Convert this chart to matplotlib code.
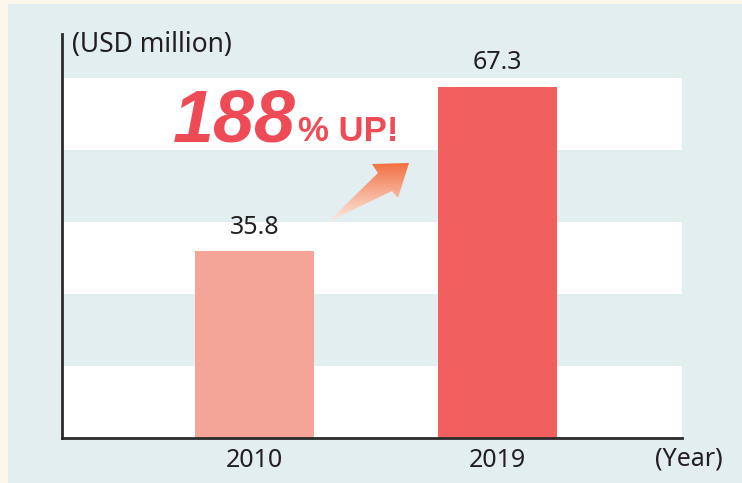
import numpy as np
import matplotlib
matplotlib.use('Agg')
from matplotlib import pyplot as plt
from matplotlib.patches import Rectangle, Polygon

years = ['2010', '2019']
values = [35.8, 67.3]
bar_colors = ['#f4a597', '#f15f5f']
growth_label = '188'

W, H = 742, 483
cream = '#fdf6ea'
panel = '#e3eef0'
dark = '#231f20'
red = '#ee4b57'

fig = plt.figure(figsize=(W / 100, H / 100), dpi=100)
fig.patch.set_facecolor(cream)
fig.patches.append(Rectangle((8 / W, 0), 1, 1 - 4 / H, transform=fig.transFigure,
                             facecolor=panel, edgecolor='none', zorder=-5))

# main axes in pixel layout
x0, x1, ytop, ybot = 62, 682, 34, 438
ax = fig.add_axes([x0 / W, (H - ybot) / H, (x1 - x0) / W, (ybot - ytop) / H])
ax.set_facecolor(panel)

ymax = 77.5
step = 13.8
for k in range(0, 5, 2):
    ax.axhspan(k * step, (k + 1) * step, color='white', lw=0, zorder=0)

pos = np.arange(len(years))
bars = ax.bar(pos, values, width=0.49, color=bar_colors, zorder=2)
for p, v in zip(pos, values):
    ax.annotate(f'{v}', (p, v), xytext=(0, 8.5), textcoords='offset points',
                ha='center', va='bottom', fontsize=18, family='Noto Sans', color=dark)

ax.set_xlim(-0.792, 1.759)
ax.set_ylim(0, ymax)
ax.set_xticks(pos)
ax.set_xticklabels(years, fontsize=18, family='Noto Sans', color=dark)
ax.tick_params(axis='x', length=0, pad=7)
ax.set_yticks([])
for s in ['top', 'right']:
    ax.spines[s].set_visible(False)
for s in ['left', 'bottom']:
    ax.spines[s].set_color('#2b2b2b')
    ax.spines[s].set_linewidth(2)

# overlay in pixel coords for annotations
ov = fig.add_axes([0, 0, 1, 1], zorder=5)
ov.set_xlim(0, W)
ov.set_ylim(H, 0)
ov.axis('off')
ov.patch.set_alpha(0)

ov.text(72, 45, '(USD million)', fontsize=19, family='Noto Sans', color=dark,
        ha='left', va='center')
ov.text(723, 459, '(Year)', fontsize=18, family='Noto Sans', color=dark,
        ha='right', va='center')

ov.text(173, 141, growth_label, fontsize=53, family='Liberation Sans', weight='bold',
        style='italic', color=red, ha='left', va='baseline')
ov.text(298, 141, '% UP!', fontsize=25, family='Liberation Sans', weight='bold',
        color=red, ha='left', va='baseline')

# gradient arrow
arrow_pts = [(328, 222), (378, 173), (372, 164), (409, 163), (398, 198), (392, 191)]
poly = Polygon(arrow_pts, closed=True, facecolor='none', edgecolor='none')
ov.add_patch(poly)
c_top = np.array([0xf2, 0x6a, 0x3b]) / 255
c_bot = np.array([0xfd, 0xf0, 0xe8]) / 255
t = np.linspace(0, 1, 100)[:, None]
grad = (c_top * (1 - t) + c_bot * t)[:, None, :].repeat(2, axis=1)
im = ov.imshow(grad, extent=(320, 415, 224, 160), aspect='auto', interpolation='bilinear')
im.set_clip_path(poly)
ov.set_xlim(0, W)
ov.set_ylim(H, 0)

fig.savefig('out.png', dpi=100, facecolor=fig.get_facecolor())
